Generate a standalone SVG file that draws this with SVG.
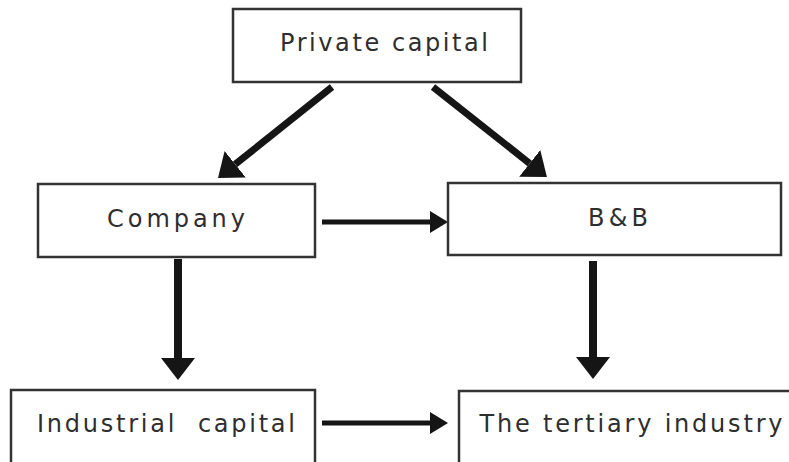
<svg xmlns="http://www.w3.org/2000/svg" width="789" height="462" viewBox="0 0 789 462">
<style>
.box{fill:#fff;stroke:#333;stroke-width:2.5}
.lbl{font-family:"DejaVu Sans","Open Sans",sans-serif;font-size:24px;fill:#2e2e2e;text-anchor:middle}
.shaft{stroke:#151515;fill:none}
</style>
<defs>
<marker id="big" viewBox="0 0 22 34" refX="0" refY="17" markerWidth="22" markerHeight="34" markerUnits="userSpaceOnUse" orient="auto">
<path d="M0,0 L22,17 L0,34 z" fill="#151515"/>
</marker>
<marker id="small" viewBox="0 0 18 22" refX="0" refY="11" markerWidth="18" markerHeight="22" markerUnits="userSpaceOnUse" orient="auto">
<path d="M0,0 L18,11 L0,22 z" fill="#151515"/>
</marker>
</defs>
<rect width="789" height="462" fill="#fff"/>
<g id="connectors">
<line class="shaft" x1="332" y1="87" x2="235.2" y2="164.3" stroke-width="7" marker-end="url(#big)"/>
<line class="shaft" x1="433" y1="87" x2="529.7" y2="163.4" stroke-width="7" marker-end="url(#big)"/>
<line class="shaft" x1="322" y1="222" x2="430" y2="222" stroke-width="5" marker-end="url(#small)"/>
<line class="shaft" x1="178" y1="259" x2="178" y2="358" stroke-width="8" marker-end="url(#big)"/>
<line class="shaft" x1="593" y1="261" x2="593" y2="357" stroke-width="8" marker-end="url(#big)"/>
<line class="shaft" x1="322" y1="423" x2="430" y2="423" stroke-width="5" marker-end="url(#small)"/>
</g>
<g id="private-capital">
<rect class="box" x="233" y="9" width="288" height="73"/>
<text class="lbl" x="384" y="51" textLength="208" lengthAdjust="spacing">Private capital</text>
</g>
<g id="company">
<rect class="box" x="38" y="184" width="277" height="73"/>
<text class="lbl" x="176" y="227" textLength="138" lengthAdjust="spacing">Company</text>
</g>
<g id="bnb">
<rect class="box" x="448" y="183" width="333" height="72"/>
<text class="lbl" x="618" y="226" textLength="60" lengthAdjust="spacing">B&amp;B</text>
</g>
<g id="industrial-capital">
<rect class="box" x="11" y="390" width="304" height="80"/>
<text class="lbl" x="166" y="432" textLength="258" lengthAdjust="spacing" xml:space="preserve">Industrial  capital</text>
</g>
<g id="tertiary-industry">
<rect class="box" x="459" y="391" width="340" height="80"/>
<text class="lbl" x="631" y="432" textLength="303" lengthAdjust="spacing">The tertiary industry</text>
</g>
</svg>
